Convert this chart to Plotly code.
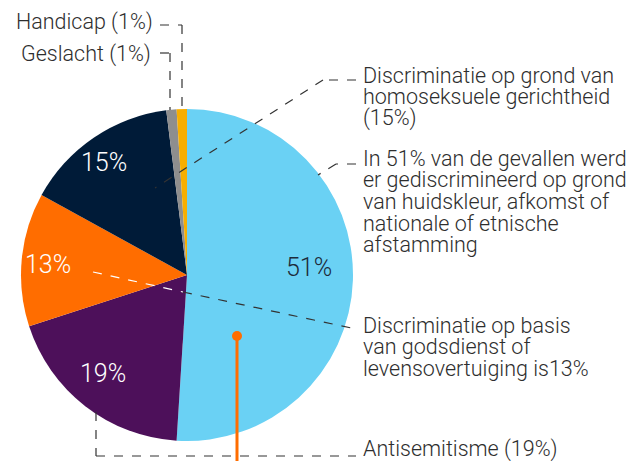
import plotly.graph_objects as go

W, H = 642, 461

# ---- data ----
categories = ["Huidskleur / afkomst", "Antisemitisme", "Godsdienst / levensovertuiging",
              "Homoseksuele gerichtheid", "Geslacht", "Handicap"]
values = [51, 19, 13, 15, 1, 1]
pct_labels = ["51%", "19%", "13%", "15%", "", ""]

label_handicap = "Handicap (1%)"
label_geslacht = "Geslacht (1%)"
label_homo = ["Discriminatie op grond van", "homoseksuele gerichtheid", "(15%)"]
label_huid = ["In 51% van de gevallen werd", "er gediscrimineerd op grond",
              "van huidskleur, afkomst of", "nationale of etnische", "afstamming"]
label_gods = ["Discriminatie op basis", "van godsdienst of", "levensovertuiging is13%"]
label_anti = "Antisemitisme (19%)"

# ---- style ----
colors = ["#6AD1F4", "#4D105A", "#FF6D00", "#001B38", "#8E8E8E", "#F7AE00"]
pct_colors = ["#1D2B3A", "white", "white", "white", "white", "white"]
pct_pos = [(309, 267), (103, 373), (48, 264), (104, 163), None, None]
TXT = "#2E2E2E"
FONT = "Roboto"
LBL_SIZE = 21.5

cx, cy, R = 187, 275, 166


def px(x):
    return x / W


def py(y):
    return 1 - y / H


fig = go.Figure()
fig.add_trace(go.Pie(
    labels=categories, values=values, sort=False, direction="clockwise", rotation=0,
    marker=dict(colors=colors, line=dict(width=0)),
    textinfo="none", hoverinfo="label+percent", showlegend=False,
    domain=dict(x=[px(cx - R), px(cx + R)], y=[py(cy + R), py(cy - R)]),
))

anns = []
for t, c, p in zip(pct_labels, pct_colors, pct_pos):
    if p and t:
        anns.append(dict(x=px(p[0]), y=py(p[1]), xref="paper", yref="paper", text=t,
                         showarrow=False, xanchor="center", yanchor="middle",
                         font=dict(family=FONT, size=25, color=c, weight=300)))


def txt(x, y, t, anchor="left"):
    anns.append(dict(x=px(x), y=py(y), xref="paper", yref="paper", text=t, showarrow=False,
                     xanchor=anchor, yanchor="middle",
                     font=dict(family=FONT, size=LBL_SIZE, color=TXT, weight=300)))


txt(155, 22, label_handicap, "right")
txt(153, 54, label_geslacht, "right")
for i, t in enumerate(label_homo):
    txt(361, 75 + i * 21.5, t)
for i, t in enumerate(label_huid):
    txt(361, 158 + i * 21.7, t)
for i, t in enumerate(label_gods):
    txt(361, 325 + i * 21.5, t)
txt(361, 449, label_anti)

shapes = []


def seg(pts, color="#333333", width=1.2, dash="dash"):
    for (x0, y0), (x1, y1) in zip(pts[:-1], pts[1:]):
        shapes.append(dict(type="line", xref="paper", yref="paper",
                           x0=px(x0), y0=py(y0), x1=px(x1), y1=py(y1),
                           line=dict(color=color, width=width, dash=dash)))


seg([(160, 25), (182, 25), (182, 110)])
seg([(160, 53), (170, 53), (170, 110)])
seg([(356, 80), (323, 80), (155, 188)])
seg([(356, 164), (336, 164), (318, 175)])
seg([(93, 272), (183, 292)], color="white")
seg([(183, 292), (356, 329)])
seg([(96, 412), (96, 456), (356, 456)])

# orange marker line + dot
seg([(237, 336), (237, 461)], color="#FF6D00", width=3, dash="solid")
shapes.append(dict(type="circle", xref="paper", yref="paper",
                   x0=px(232), x1=px(242), y0=py(341), y1=py(331),
                   fillcolor="#FF6D00", line=dict(width=0)))

fig.update_layout(width=W, height=H, margin=dict(l=0, r=0, t=0, b=0),
                  paper_bgcolor="white", plot_bgcolor="white",
                  annotations=anns, shapes=shapes)
fig.write_html("out.html")
